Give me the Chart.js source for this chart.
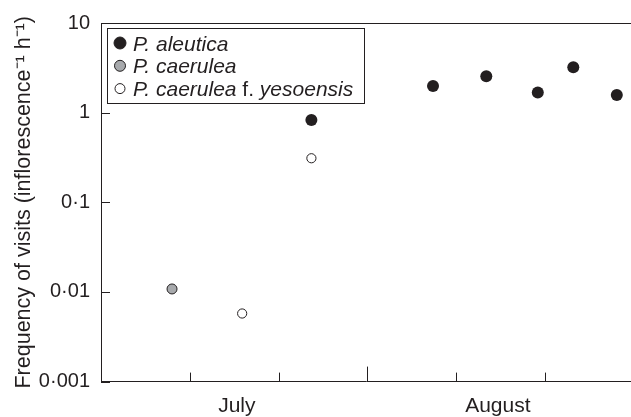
<!DOCTYPE html>
<html>
<head>
<meta charset="utf-8">
<script src="https://cdn.jsdelivr.net/npm/chart.js@4/dist/chart.umd.min.js"></script>
<style>
  html, body { margin: 0; padding: 0; background: #fff; overflow: hidden; }
  canvas { display: block; }
</style>
</head>
<body>
<canvas id="visits" width="631" height="417"></canvas>
<script>
// x in days from 1 July, y in visits per inflorescence per hour
var aleuticaDays = [23.7, 37.4, 43.4, 49.2, 53.2, 58.1];
var aleuticaRates = [0.83, 1.98, 2.55, 1.68, 3.2, 1.57];
var caeruleaDays = [8.0];
var caeruleaRates = [0.0108];
var yesoensisDays = [15.9, 23.7];
var yesoensisRates = [0.00575, 0.31];

var monthTicks = [15.3, 44.7];
var monthLabels = ['July', 'August'];
var dayTicks = [10, 20, 30, 40, 50];
var decadeTicks = [0.001, 0.01, 0.1, 1, 10];

var ink = '#231f20';
var grey = '#a7a9ac';
var fontName = '"Liberation Sans", Arial, Helvetica, sans-serif';

function toPoints(xs, ys) {
    return xs.map(function (x, i) { return { x: x, y: ys[i] }; });
}

function fmtDecade(v) {
    if (v >= 1) return String(v);
    return v.toFixed(Math.round(-Math.log10(v))).replace('.', '\u00b7');
}

// axis extras: inward ticks, top frame line, legend box
var frameAndLegend = {
    id: 'frameAndLegend',
    afterDraw: function (chart) {
        var ctx = chart.ctx;
        var area = chart.chartArea;
        var xs = chart.scales.x, ys = chart.scales.y;
        ctx.save();
        ctx.strokeStyle = ink;
        ctx.lineWidth = 1;
        ctx.beginPath();
        ctx.moveTo(area.left, area.top + 0.5);
        ctx.lineTo(area.right, area.top + 0.5);
        dayTicks.forEach(function (d) {
            var px = Math.round(xs.getPixelForValue(d)) + 0.5;
            var len = d === 30 ? 15 : 9;
            ctx.moveTo(px, area.bottom);
            ctx.lineTo(px, area.bottom - len);
        });
        decadeTicks.forEach(function (v) {
            var py = Math.round(ys.getPixelForValue(v)) + 0.5;
            ctx.moveTo(area.left, py);
            ctx.lineTo(area.left + 9, py);
        });
        ctx.stroke();

        // legend
        var bx = area.left + 6, by = area.top + 5, bw = 257, bh = 75;
        ctx.strokeRect(bx + 0.5, by + 0.5, bw, bh);
        var items = [
            { fill: ink, r: 6, parts: [['P. aleutica', true]] },
            { fill: grey, r: 5.5, parts: [['P. caerulea', true]] },
            { fill: '#fff', r: 5, parts: [['P. caerulea', true], [' f. ', false], ['yesoensis', true]] }
        ];
        ctx.textBaseline = 'alphabetic';
        items.forEach(function (it, i) {
            var cy = by + 15 + i * 22.8;
            ctx.beginPath();
            ctx.arc(bx + 13, cy, it.r, 0, Math.PI * 2);
            ctx.fillStyle = it.fill;
            ctx.fill();
            ctx.stroke();
            var tx = bx + 26;
            ctx.fillStyle = ink;
            it.parts.forEach(function (p) {
                ctx.font = (p[1] ? 'italic ' : '') + '21px ' + fontName;
                ctx.fillText(p[0], tx, cy + 7.5);
                tx += ctx.measureText(p[0]).width;
            });
        });
        ctx.restore();
    }
};

var ctx = document.getElementById('visits').getContext('2d');
var visitsChart = new Chart(ctx, {
    type: 'scatter',
    data: {
        datasets: [{
            label: 'P. caerulea',
            data: toPoints(caeruleaDays, caeruleaRates),
            backgroundColor: grey,
            borderColor: ink,
            borderWidth: 1,
            pointRadius: 5
        }, {
            label: 'P. caerulea f. yesoensis',
            data: toPoints(yesoensisDays, yesoensisRates),
            backgroundColor: '#fff',
            borderColor: ink,
            borderWidth: 1,
            pointRadius: 4.6
        }, {
            label: 'P. aleutica',
            data: toPoints(aleuticaDays, aleuticaRates),
            backgroundColor: ink,
            borderColor: ink,
            borderWidth: 0,
            pointRadius: 6
        }]
    },
    options: {
        responsive: false,
        animation: false,
        clip: false,
        layout: { autoPadding: false, padding: { top: 22, right: 0, bottom: 0, left: 0 } },
        plugins: {
            legend: { display: false },
            tooltip: { enabled: false }
        },
        scales: {
            x: {
                type: 'linear',
                min: 0,
                max: 59.7,
                grid: { display: false, drawTicks: false },
                border: { display: true, color: ink, width: 1 },
                afterBuildTicks: function (s) {
                    s.ticks = monthTicks.map(function (v) { return { value: v }; });
                },
                ticks: {
                    autoSkip: false,
                    maxRotation: 0,
                    padding: 12.5,
                    color: ink,
                    font: { family: fontName, size: 21 },
                    callback: function (v) { return monthLabels[monthTicks.indexOf(v)]; }
                },
                afterFit: function (s) { s.height = 35.4; }
            },
            y: {
                type: 'logarithmic',
                min: 0.001,
                max: 10,
                grid: { display: false, drawTicks: false },
                border: { display: true, color: ink, width: 1 },
                afterBuildTicks: function (s) {
                    s.ticks = decadeTicks.map(function (v) { return { value: v }; });
                },
                ticks: {
                    autoSkip: false,
                    padding: 11,
                    color: ink,
                    font: { family: fontName, size: 20 },
                    callback: function (v) { return fmtDecade(v); }
                },
                title: {
                    display: true,
                    text: 'Frequency of visits (inflorescence\u207b\u00b9 h\u207b\u00b9)',
                    color: ink,
                    font: { family: fontName, size: 21.5 },
                    padding: { top: 11, bottom: 0 }
                },
                afterFit: function (s) { s.width = 101; }
            }
        }
    },
    plugins: [frameAndLegend]
});
</script>
</body>
</html>
